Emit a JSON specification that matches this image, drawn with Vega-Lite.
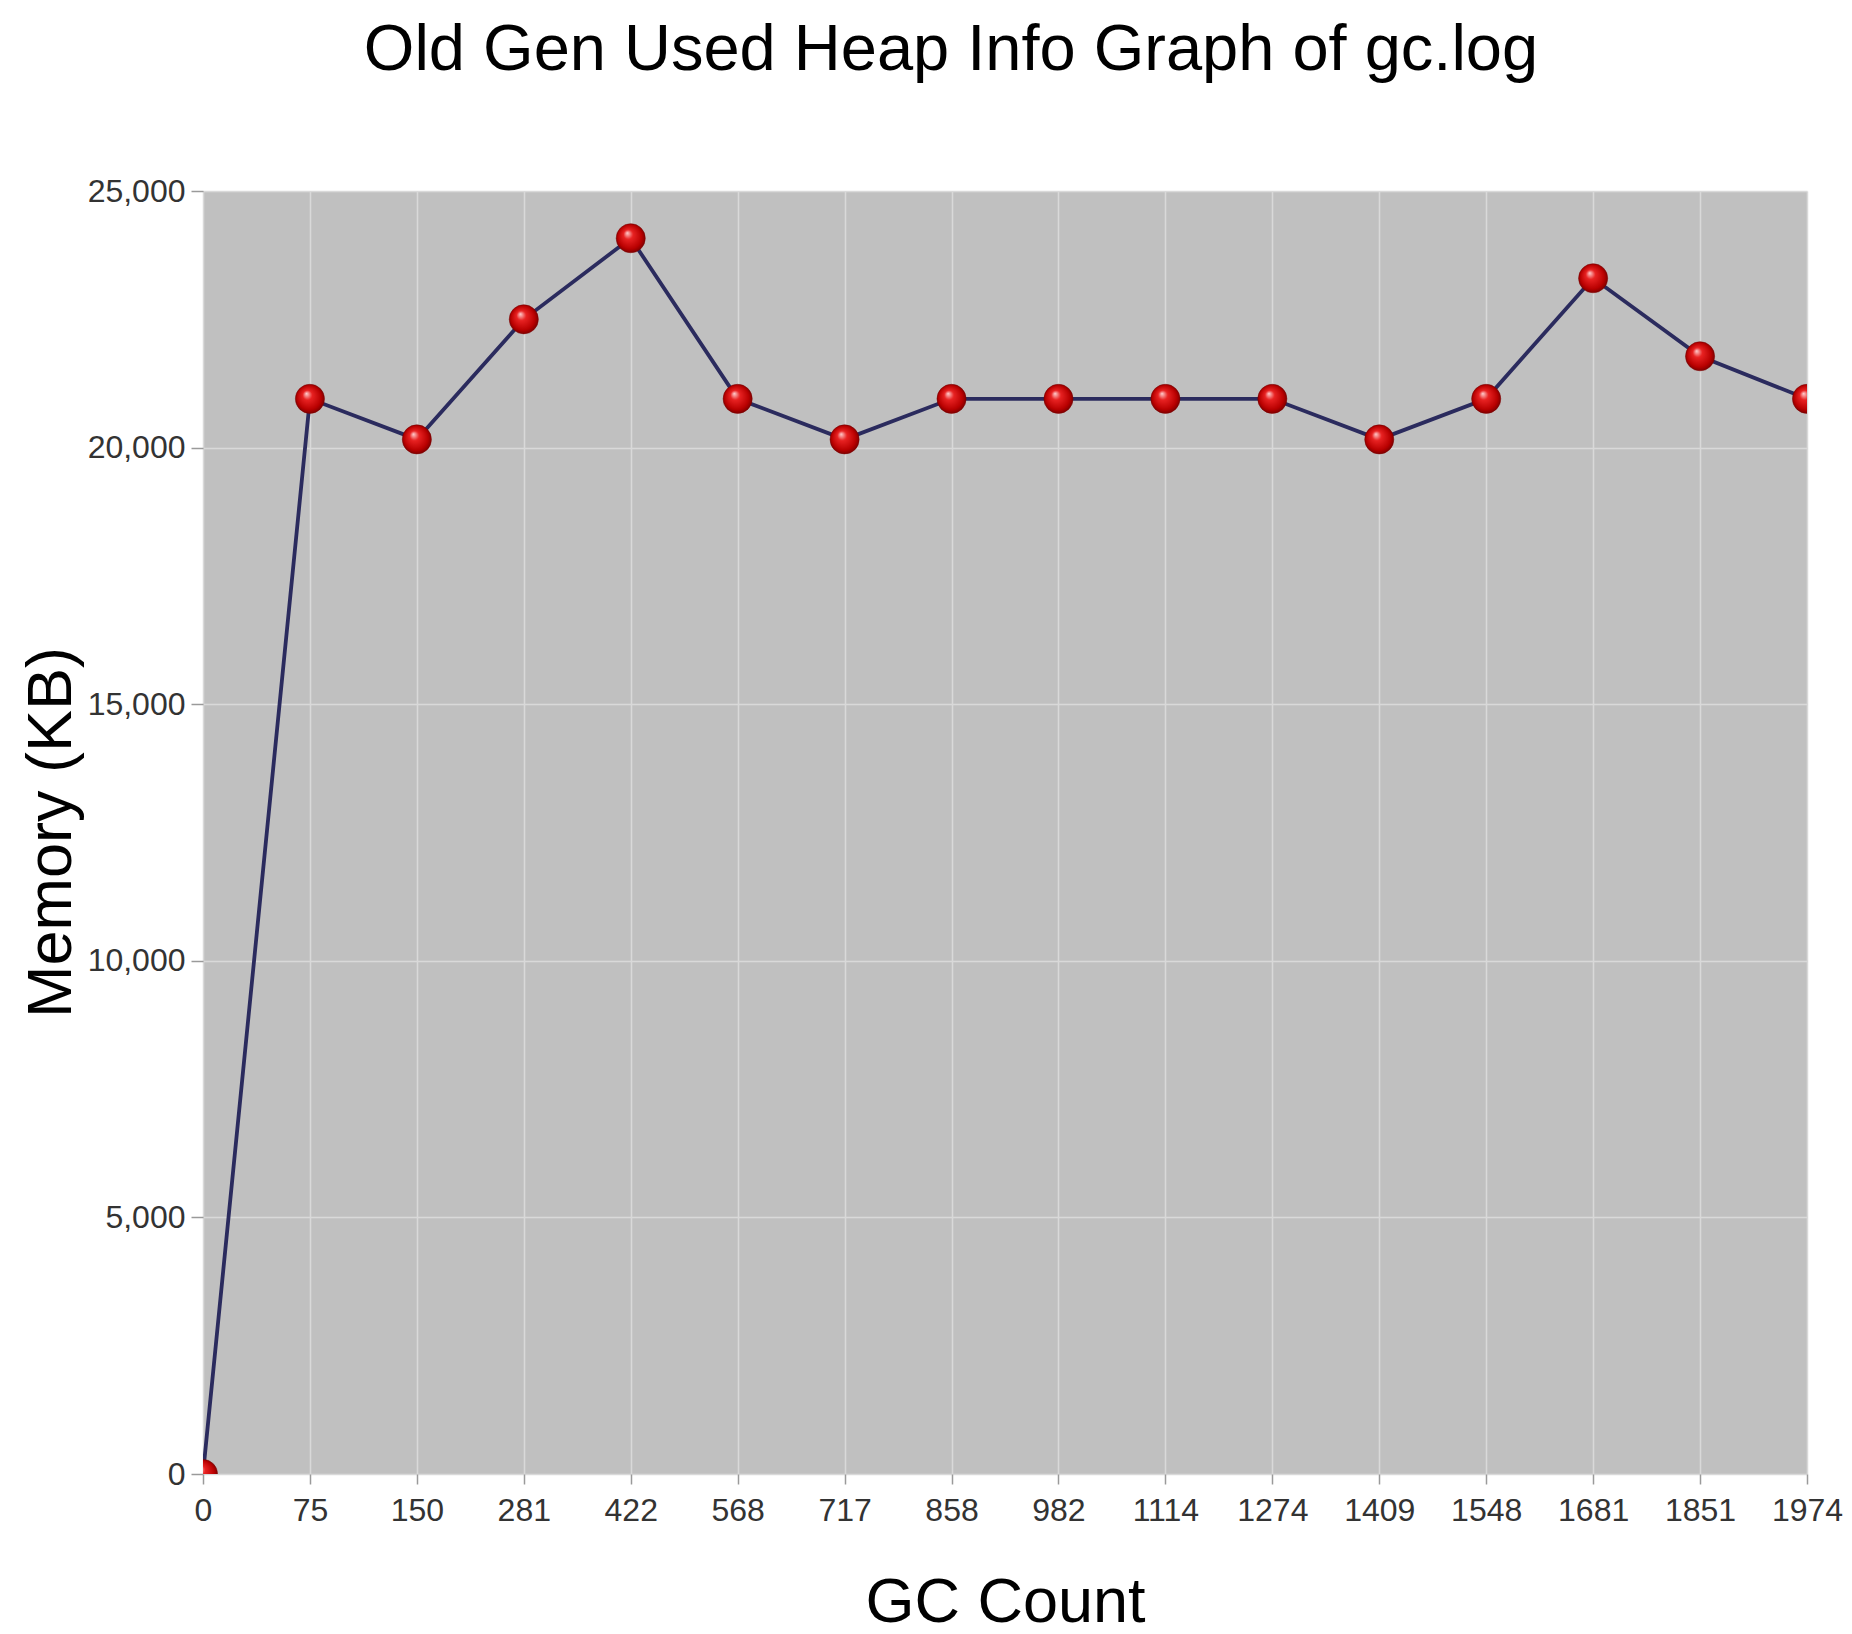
{
  "$schema": "https://vega.github.io/schema/vega-lite/v6.json",
  "autosize": {"type": "none"},
  "padding": {"left": 203, "top": 191, "right": 45, "bottom": 160},
  "width": 1604,
  "height": 1283,
  "background": "white",
  "title": {
    "text": "Old Gen Used Heap Info Graph of gc.log",
    "font": "Liberation Sans",
    "fontSize": 65,
    "fontWeight": "normal",
    "color": "#000000",
    "anchor": "middle",
    "frame": "group",
    "dx": -54,
    "baseline": "alphabetic",
    "offset": 40
  },
  "config": {
    "view": {"fill": "#c0c0c0", "stroke": null},
    "axis": {
      "labelFont": "Liberation Sans",
      "titleFont": "Liberation Sans",
      "titleFontWeight": "normal",
      "titleColor": "#000000",
      "labelColor": "#333333",
      "gridColor": "#d9d9d9",
      "gridWidth": 1.5,
      "gridOpacity": 1,
      "domain": false,
      "tickColor": "#9a9a9a",
      "tickWidth": 1.5
    }
  },
  "data": {
    "values": [
      {"gc": "0", "mem": 0},
      {"gc": "75", "mem": 20950},
      {"gc": "150", "mem": 20160},
      {"gc": "281", "mem": 22500},
      {"gc": "422", "mem": 24080},
      {"gc": "568", "mem": 20950},
      {"gc": "717", "mem": 20160},
      {"gc": "858", "mem": 20950},
      {"gc": "982", "mem": 20950},
      {"gc": "1114", "mem": 20950},
      {"gc": "1274", "mem": 20950},
      {"gc": "1409", "mem": 20160},
      {"gc": "1548", "mem": 20950},
      {"gc": "1681", "mem": 23300},
      {"gc": "1851", "mem": 21780},
      {"gc": "1974", "mem": 20950}
    ]
  },
  "encoding": {
    "x": {
      "field": "gc",
      "type": "ordinal",
      "sort": null,
      "scale": {"type": "point", "padding": 0},
      "axis": {
        "title": "GC Count",
        "titleFontSize": 63,
        "titleY": 128,
        "titleBaseline": "middle",
        "labelAngle": 0,
        "labelFontSize": 32,
        "labelPadding": 11,
        "tickSize": 10,
        "grid": true
      }
    },
    "y": {
      "field": "mem",
      "type": "quantitative",
      "scale": {"domain": [0, 25000], "nice": false},
      "axis": {
        "title": "Memory (KB)",
        "titleFontSize": 63,
        "titleAngle": 270,
        "titleX": -152,
        "titleY": 641,
        "titleAlign": "center",
        "titleBaseline": "middle",
        "values": [0, 5000, 10000, 15000, 20000, 25000],
        "format": ",d",
        "labelFontSize": 32,
        "labelPadding": 6,
        "tickSize": 12,
        "grid": true
      }
    }
  },
  "layer": [
    {
      "mark": {"type": "line", "color": "#2b2b5e", "strokeWidth": 3.8, "clip": true}
    },
    {
      "mark": {
        "type": "point",
        "shape": "circle",
        "filled": true,
        "size": 850,
        "opacity": 1,
        "clip": true,
        "stroke": "#7a0000",
        "strokeWidth": 0.5,
        "fill": {
          "gradient": "radial",
          "x1": 0.38, "y1": 0.32, "r1": 0,
          "x2": 0.5, "y2": 0.5, "r2": 0.55,
          "stops": [
            {"offset": 0, "color": "#ffd0d0"},
            {"offset": 0.3, "color": "#e82222"},
            {"offset": 0.75, "color": "#b80000"},
            {"offset": 1, "color": "#6a0000"}
          ]
        }
      }
    }
  ]
}
